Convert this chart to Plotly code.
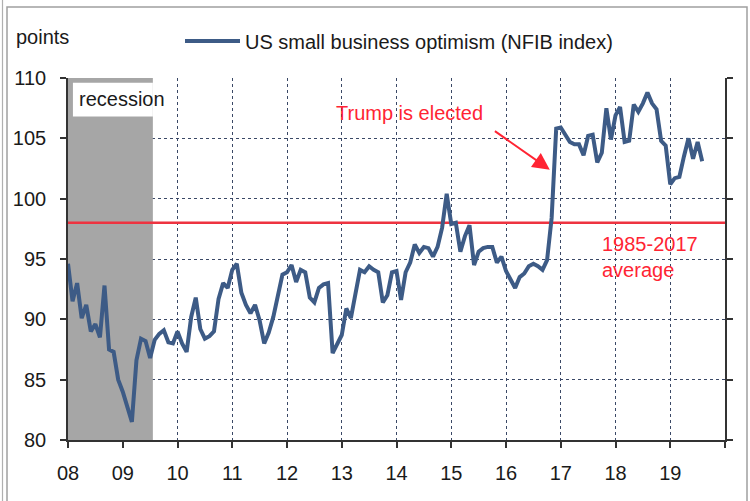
import pandas as pd
import plotly.graph_objects as go

# ---------------- data ----------------
months = pd.date_range("2008-01-01", "2019-08-01", freq="MS")
nfib_index = [
    94.6, 91.5, 93.0, 90.1, 91.2, 89.0, 89.6, 88.5, 92.8, 87.5, 87.3, 85.0,   # 2008
    84.0, 82.7, 81.5, 86.6, 88.4, 88.2, 86.8, 88.3, 88.8, 89.1, 88.1, 88.0,   # 2009
    89.0, 88.0, 87.3, 90.2, 91.8, 89.2, 88.4, 88.6, 89.0, 91.7, 93.0, 92.6,   # 2010
    94.1, 94.6, 92.2, 91.2, 90.5, 91.2, 89.9, 88.0, 88.9, 90.2, 92.0, 93.7,   # 2011
    93.9, 94.5, 93.1, 94.1, 93.9, 91.8, 91.4, 92.6, 92.9, 93.0, 87.2, 88.0,   # 2012
    88.7, 90.9, 90.1, 92.1, 94.1, 93.9, 94.4, 94.1, 93.9, 91.4, 92.0, 93.9,   # 2013
    94.0, 91.6, 93.9, 94.7, 96.2, 95.5, 96.0, 95.9, 95.2, 96.0, 97.6, 100.4,  # 2014
    97.9, 98.0, 95.6, 96.9, 97.8, 94.5, 95.6, 95.9, 96.0, 96.0, 94.7, 95.2,   # 2015
    94.0, 93.3, 92.6, 93.5, 93.8, 94.4, 94.6, 94.4, 94.1, 94.9, 98.4, 105.8,  # 2016
    105.9, 105.3, 104.7, 104.5, 104.5, 103.6, 105.2, 105.3, 103.0, 103.8, 107.5, 104.9,  # 2017
    106.9, 107.6, 104.7, 104.8, 107.8, 107.2, 107.9, 108.8, 107.9, 107.4, 104.8, 104.4,  # 2018
    101.2, 101.7, 101.8, 103.5, 105.0, 103.3, 104.7, 103.1,                    # 2019
]
average_1985_2017 = 98.0
recession_start, recession_end = 2008.0, 2009.55
election_point = (2016.80, 102.4)

year_ticks = list(range(2008, 2021))
year_labels = ["08", "09", "10", "11", "12", "13", "14", "15", "16", "17", "18", "19", ""]
y_ticks = [80, 85, 90, 95, 100, 105, 110]

x_vals = [d.year + (d.month - 1) / 12 for d in months]

# ---------------- styling ----------------
FONT = "Liberation Sans, Arial, sans-serif"
FS = 20
LINE_COLOR = "#3d5b86"
RED = "#ff2433"
GRID = "#3a4866"
W, H = 750, 501
ML, MR, MT, MB = 68, 25, 78, 61
PW, PH = W - ML - MR, H - MT - MB


def px_to_paper(px, py):
    return (px - ML) / PW, (H - MB - py) / PH


fig = go.Figure()
fig.add_trace(go.Scatter(
    x=x_vals, y=nfib_index, mode="lines",
    name="US small business optimism (NFIB index)",
    line=dict(color=LINE_COLOR, width=4),
))

# recession band
fig.add_shape(type="rect", xref="x", yref="y", x0=recession_start, x1=recession_end,
              y0=80, y1=110, fillcolor="#a6a6a6", line=dict(width=0), layer="between")
# white label box
fig.add_shape(type="rect", xref="x", yref="y", x0=2008.09, x1=recession_end,
              y0=106.8, y1=109.6, fillcolor="white", line=dict(width=0), layer="between")
# average line
fig.add_shape(type="line", xref="x", yref="y", x0=2008, x1=2020,
              y0=average_1985_2017, y1=average_1985_2017,
              line=dict(color="#ee3340", width=2.4), layer="between")

# outer frame lines
x0p, y0p = px_to_paper(7, 7)
x1p, y1p = px_to_paper(747, 520)
fig.add_shape(type="rect", xref="paper", yref="paper", x0=x0p, x1=x1p, y0=y1p, y1=y0p,
              line=dict(color="#a0a0a0", width=1.5), layer="above")
xa, ya = px_to_paper(2.5, 0)
xb, yb = px_to_paper(2.5, 520)
fig.add_shape(type="line", xref="paper", yref="paper", x0=xa, x1=xb, y0=ya, y1=yb,
              line=dict(color="#b0b0b0", width=1.2), layer="above")

# annotations
fig.add_annotation(x=2008.17, y=108.25, xref="x", yref="y", text="recession",
                   showarrow=False, xanchor="left", yanchor="middle",
                   font=dict(family=FONT, size=FS, color="#1a1a1a"))
fig.add_annotation(x=2012.86, y=107.1, xref="x", yref="y", text="Trump is elected",
                   showarrow=False, xanchor="left", yanchor="middle",
                   font=dict(family=FONT, size=FS, color=RED))
fig.add_annotation(x=election_point[0], y=election_point[1], xref="x", yref="y",
                   ax=2015.77, ay=105.68, axref="x", ayref="y", text="",
                   showarrow=True, arrowhead=2, arrowsize=1.7, arrowwidth=2,
                   arrowcolor=RED)
fig.add_annotation(x=2017.72, y=95.2, xref="x", yref="y",
                   text="1985-2017<br>average", align="left",
                   showarrow=False, xanchor="left", yanchor="middle",
                   font=dict(family=FONT, size=FS, color=RED))
px_, py_ = px_to_paper(14, 37)
fig.add_annotation(x=px_, y=py_, xref="paper", yref="paper", text="points",
                   showarrow=False, xanchor="left", yanchor="middle",
                   font=dict(family=FONT, size=FS, color="#1a1a1a"))

lx, ly = px_to_paper(180, 41)
fig.update_layout(
    width=W, height=H,
    margin=dict(l=ML, r=MR, t=MT, b=MB, autoexpand=False),
    paper_bgcolor="white", plot_bgcolor="white",
    font=dict(family=FONT, size=FS, color="#1a1a1a"),
    showlegend=True,
    legend=dict(x=lx, y=ly, xanchor="left", yanchor="middle", orientation="h",
                bgcolor="rgba(0,0,0,0)", font=dict(family=FONT, size=FS, color="#1a1a1a"),
                itemwidth=55),
    xaxis=dict(range=[2008, 2020], tickmode="array", tickvals=year_ticks, ticktext=year_labels,
               showgrid=True, gridcolor=GRID, griddash="dot", gridwidth=1.2,
               showline=True, linecolor="#333333", linewidth=1.6,
               ticks="outside", ticklen=6, tickcolor="#333333", tickwidth=1.6,
               ticklabelstandoff=8, zeroline=False, fixedrange=True),
    yaxis=dict(range=[80, 110], tickmode="array", tickvals=y_ticks,
               showgrid=True, gridcolor=GRID, griddash="dot", gridwidth=1.2,
               showline=True, linecolor="#333333", linewidth=1.6, mirror="ticks",
               ticks="outside", ticklen=6, tickcolor="#333333", tickwidth=1.6,
               ticklabelstandoff=10, zeroline=False, fixedrange=True),
)

fig.write_html(
    "out.html",
    config={"displayModeBar": False},
    post_script="document.body.style.margin='0';document.body.style.overflow='hidden';",
)
